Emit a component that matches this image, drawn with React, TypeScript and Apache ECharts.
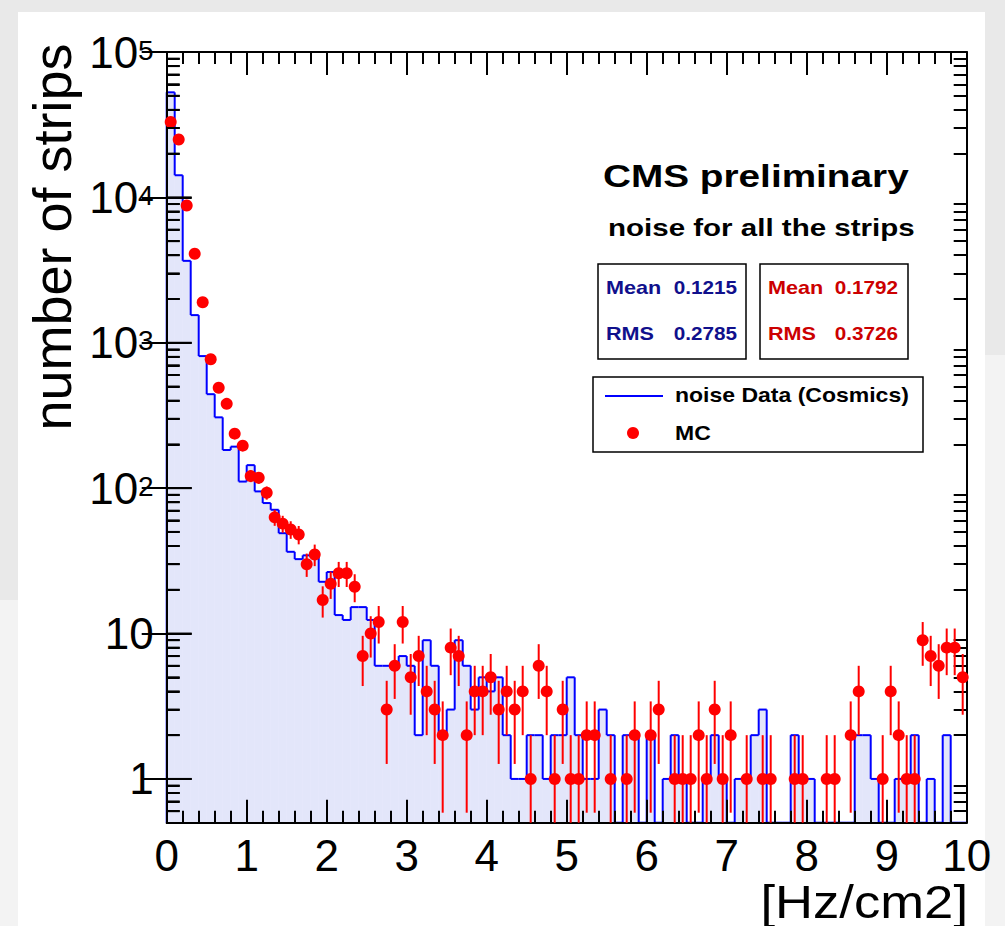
import React, { useEffect, useRef } from "react";
import * as echarts from "echarts";

// ---- data (bin width 0.1 Hz/cm2, 100 bins from 0 to 10) ----
const X_MIN = 0;
const X_MAX = 10;
const N_BINS = 100;
const Y_MIN = 0.5;
const Y_MAX = 100000;

const dataCounts = [
  52800, 14200, 3660, 1550, 810, 443, 307, 183, 193, 111,
  144, 95, 79, 71, 49, 36.5, 32.5, 34.5, 34, 22.7,
  26.5, 13.4, 12.4, 15.2, 15.2, 12.4, 6, 6, 6, 7,
  6, 2, 9, 6, 2, 3, 9, 6, 3, 5,
  4, 5, 2, 1, 1, 2, 2, 1, 2, 2,
  5, 2, 1, 1, 3, 2, 0, 2, 2, 0,
  2, 0, 1, 2, 1, 0, 0, 1, 2, 1,
  0, 1, 1, 2, 3, 0, 0, 0, 2, 1,
  1, 0, 0, 0, 0, 0, 2, 2, 1, 0,
  0, 1, 1, 2, 0, 1, 0, 2, 0, 0,
];

const mcCounts = [
  33000, 25000, 8800, 4100, 1900, 770, 490, 380, 237, 196,
  121, 118, 93, 63, 57, 52, 48, 30, 35, 17,
  22, 26, 26, 21, 7, 10, 12, 3, 6, 12,
  5, 7, 4, 3, 2, 8, 7, 2, 4, 4,
  5, 3, 4, 3, 4, 1, 6, 4, 1, 3,
  1, 1, 2, 2, 0, 1, 0, 1, 2, 0,
  2, 3, 0, 1, 1, 1, 2, 1, 3, 1,
  2, 0, 1, 0, 1, 1, 0, 0, 1, 1,
  0, 0, 1, 1, 0, 2, 4, 0, 0, 1,
  4, 2, 1, 1, 9, 7, 6, 8, 8, 5,
];

const xTickValues = [0, 1, 2, 3, 4, 5, 6, 7, 8, 9, 10];
const yMajorTickValues = [1, 10, 100, 1000, 10000, 100000];
const yMinorTickValues = [
  0.6, 0.7, 0.8, 0.9,
  2, 3, 4, 5, 6, 7, 8, 9,
  20, 30, 40, 50, 60, 70, 80, 90,
  200, 300, 400, 500, 600, 700, 800, 900,
  2000, 3000, 4000, 5000, 6000, 7000, 8000, 9000,
  20000, 30000, 40000, 50000, 60000, 70000, 80000, 90000,
];

const dataStats = { mean: "0.1215", rms: "0.2785" };
const mcStats = { mean: "0.1792", rms: "0.3726" };

const BLUE = "#0000ff";
const RED = "#ff0000";
const FILL = "rgba(170, 178, 240, 0.33)";
const FONT = "'Liberation Sans', Arial, Helvetica, sans-serif";

const binW = (X_MAX - X_MIN) / N_BINS;

function yAxisBase(position: string, ticks: number[], len: number, withLabels: boolean) {
  return {
    type: "log",
    logBase: 10,
    position,
    offset: 0,
    min: Y_MIN,
    max: Y_MAX,
    z: 50,
    axisLine: { show: true, lineStyle: { color: "#000", width: 2 } },
    axisTick: {
      show: true,
      inside: true,
      length: len,
      customValues: ticks,
      lineStyle: { color: "#000", width: 2 },
    },
    splitLine: { show: false },
    axisLabel: withLabels
      ? {
          show: true,
          margin: 13,
          color: "#000",
          fontFamily: FONT,
          fontSize: 44,
          lineHeight: 40,
          customValues: yMajorTickValues,
          formatter: (v: number) => {
            const e = Math.round(Math.log10(v));
            if (Math.abs(v - Math.pow(10, e)) > 1e-6 * v) return "";
            if (e === 0) return "1";
            if (e === 1) return "10";
            return "{b|10}{s|" + e + "}";
          },
          rich: {
            b: { fontSize: 44, fontFamily: FONT, color: "#000", lineHeight: 44, padding: [14, 0, 0, 0], verticalAlign: "bottom" },
            s: { fontSize: 28, fontFamily: FONT, color: "#000", lineHeight: 28, padding: [6, 0, 0, 0], verticalAlign: "top" },
          },
        }
      : { show: false },
  };
}

export default function App() {
  const ref = useRef<HTMLDivElement | null>(null);

  useEffect(() => {
    if (!ref.current) return;
    const chart = echarts.init(ref.current, undefined, { renderer: "svg" });

    const histData = dataCounts.map((v, i) => [
      X_MIN + i * binW,
      X_MIN + (i + 1) * binW,
      v,
      i === 0 ? 0 : dataCounts[i - 1],
    ]);

    const mcPoints: number[][] = [];
    const mcErr: number[][] = [];
    mcCounts.forEach((v, i) => {
      if (v > 0) {
        const c = X_MIN + (i + 0.5) * binW;
        mcPoints.push([c, v]);
        mcErr.push([c, v, v - Math.sqrt(v), v + Math.sqrt(v)]);
      }
    });

    const bottomOf = (params: any) => params.coordSys.y + params.coordSys.height;

    const graphics: any[] = [
      {
        type: "text",
        x: 52,
        y: 237,
        rotation: Math.PI / 2,
        style: {
          text: "number of strips",
          font: "54px " + FONT,
          fill: "#000",
          align: "center",
          verticalAlign: "middle",
        },
      },
      {
        type: "text",
        x: 968,
        y: 902,
        scaleX: 1.12,
        style: {
          text: "[Hz/cm2]",
          font: "47px " + FONT,
          fill: "#000",
          align: "right",
          verticalAlign: "middle",
        },
      },
      {
        type: "text",
        x: 603,
        y: 176,
        scaleX: 1.25,
        style: { text: "CMS preliminary", font: "bold 31px " + FONT, fill: "#000", align: "left", verticalAlign: "middle" },
      },
      {
        type: "text",
        x: 608,
        y: 228,
        scaleX: 1.23,
        style: { text: "noise for all the strips", font: "bold 24px " + FONT, fill: "#000", align: "left", verticalAlign: "middle" },
      },
      {
        type: "rect",
        shape: { x: 598, y: 264, width: 148, height: 95 },
        style: { fill: "#fff", stroke: "#000", lineWidth: 1.5 },
      },
      {
        type: "rect",
        shape: { x: 760, y: 264, width: 148, height: 95 },
        style: { fill: "#fff", stroke: "#000", lineWidth: 1.5 },
      },
      { type: "text", x: 606, y: 288, scaleX: 1.2, style: { text: "Mean", font: "bold 18px " + FONT, fill: "#10108c", verticalAlign: "middle" } },
      { type: "text", x: 737, y: 288, scaleX: 1.15, style: { text: dataStats.mean, font: "bold 18px " + FONT, fill: "#10108c", align: "right", verticalAlign: "middle" } },
      { type: "text", x: 606, y: 334, scaleX: 1.2, style: { text: "RMS", font: "bold 18px " + FONT, fill: "#10108c", verticalAlign: "middle" } },
      { type: "text", x: 737, y: 334, scaleX: 1.15, style: { text: dataStats.rms, font: "bold 18px " + FONT, fill: "#10108c", align: "right", verticalAlign: "middle" } },
      { type: "text", x: 768, y: 288, scaleX: 1.2, style: { text: "Mean", font: "bold 18px " + FONT, fill: "#cc0000", verticalAlign: "middle" } },
      { type: "text", x: 898, y: 288, scaleX: 1.15, style: { text: mcStats.mean, font: "bold 18px " + FONT, fill: "#cc0000", align: "right", verticalAlign: "middle" } },
      { type: "text", x: 768, y: 334, scaleX: 1.2, style: { text: "RMS", font: "bold 18px " + FONT, fill: "#cc0000", verticalAlign: "middle" } },
      { type: "text", x: 898, y: 334, scaleX: 1.15, style: { text: mcStats.rms, font: "bold 18px " + FONT, fill: "#cc0000", align: "right", verticalAlign: "middle" } },
      {
        type: "rect",
        shape: { x: 593, y: 377, width: 330, height: 75 },
        style: { fill: "#fff", stroke: "#000", lineWidth: 1.5 },
      },
      { type: "line", shape: { x1: 605, y1: 396, x2: 663, y2: 396 }, style: { stroke: BLUE, lineWidth: 2 } },
      { type: "text", x: 675, y: 396, scaleX: 1.18, style: { text: "noise Data (Cosmics)", font: "bold 19.5px " + FONT, fill: "#000", verticalAlign: "middle" } },
      { type: "circle", shape: { cx: 633, cy: 433, r: 6 }, style: { fill: RED } },
      { type: "text", x: 675, y: 434, scaleX: 1.18, style: { text: "MC", font: "bold 19.5px " + FONT, fill: "#000", verticalAlign: "middle" } },
    ];

    const option: any = {
      animation: false,
      backgroundColor: "transparent",
      grid: { left: 166.7, top: 52, right: 38.3, bottom: 103.3, containLabel: false },
      xAxis: [
        {
          type: "value",
          min: X_MIN,
          max: X_MAX,
          interval: 1,
          z: 50,
          axisLine: { show: true, lineStyle: { color: "#000", width: 2 } },
          axisTick: { show: true, inside: true, length: 23, lineStyle: { color: "#000", width: 2 } },
          minorTick: { show: true, splitNumber: 5, length: 12, lineStyle: { color: "#000", width: 2 } },
          splitLine: { show: false },
          axisLabel: {
            show: true,
            margin: 17,
            fontSize: 44,
            lineHeight: 32,
            color: "#000",
            fontFamily: FONT,
            formatter: (v: number) => (xTickValues.includes(v) ? String(v) : ""),
          },
        },
        {
          type: "value",
          position: "top",
          min: X_MIN,
          max: X_MAX,
          interval: 1,
          z: 50,
          axisLine: { show: true, lineStyle: { color: "#000", width: 2 } },
          axisTick: { show: true, inside: true, length: 23, lineStyle: { color: "#000", width: 2 } },
          minorTick: { show: true, splitNumber: 5, length: 12, lineStyle: { color: "#000", width: 2 } },
          splitLine: { show: false },
          axisLabel: { show: false },
        },
      ],
      yAxis: [
        yAxisBase("left", yMajorTickValues, 25, true),
        yAxisBase("right", yMajorTickValues, 25, false),
        yAxisBase("left", yMinorTickValues, 13, false),
        yAxisBase("right", yMinorTickValues, 13, false),
      ],
      series: [
        {
          type: "custom",
          name: "fill",
          xAxisIndex: 0,
          yAxisIndex: 0,
          z: 1,
          silent: true,
          encode: { x: [0, 1], y: 2 },
          data: histData,
          renderItem: (params: any, api: any) => {
            const bottom = bottomOf(params);
            const v = api.value(2);
            const y = v > 0 ? Math.min(api.coord([X_MIN, v])[1], bottom) : bottom;
            const x0 = api.coord([api.value(0), 1])[0];
            const x1 = api.coord([api.value(1), 1])[0];
            return {
              type: "rect",
              shape: { x: x0, y, width: x1 - x0, height: bottom - y },
              style: { fill: FILL },
            };
          },
        },
        {
          type: "custom",
          name: "noise Data (Cosmics)",
          xAxisIndex: 0,
          yAxisIndex: 0,
          z: 3,
          silent: true,
          encode: { x: [0, 1], y: 2 },
          data: histData,
          renderItem: (params: any, api: any) => {
            const bottom = bottomOf(params);
            const yOf = (v: number) => (v > 0 ? Math.min(api.coord([X_MIN, v])[1], bottom) : bottom);
            const x0 = api.coord([api.value(0), 1])[0];
            const x1 = api.coord([api.value(1), 1])[0];
            const y = yOf(api.value(2));
            const yp = yOf(api.value(3));
            return {
              type: "group",
              children: [
                { type: "line", shape: { x1: x0, y1: y, x2: x1, y2: y }, style: { stroke: BLUE, lineWidth: 2 } },
                { type: "line", shape: { x1: x0, y1: yp, x2: x0, y2: y }, style: { stroke: BLUE, lineWidth: 2 } },
              ],
            };
          },
        },
        {
          type: "custom",
          name: "MC errors",
          xAxisIndex: 0,
          yAxisIndex: 0,
          z: 60,
          silent: true,
          encode: { x: 0, y: 1 },
          data: mcErr,
          renderItem: (params: any, api: any) => {
            const bottom = bottomOf(params);
            const c = api.coord([api.value(0), api.value(1)]);
            const lo = api.value(2);
            const hi = api.value(3);
            const yLo = lo > 0 ? Math.min(api.coord([X_MIN, lo])[1], bottom) : bottom;
            const yHi = api.coord([X_MIN, hi])[1];
            const xl = api.coord([api.value(0) - binW / 2, 1])[0];
            const xr = api.coord([api.value(0) + binW / 2, 1])[0];
            return {
              type: "group",
              children: [
                { type: "line", shape: { x1: c[0], y1: yLo, x2: c[0], y2: yHi }, style: { stroke: RED, lineWidth: 2 } },
                { type: "line", shape: { x1: xl, y1: c[1], x2: xr, y2: c[1] }, style: { stroke: RED, lineWidth: 2 } },
              ],
            };
          },
        },
        {
          type: "scatter",
          name: "MC",
          xAxisIndex: 0,
          yAxisIndex: 0,
          z: 61,
          symbol: "circle",
          symbolSize: 12,
          itemStyle: { color: RED, opacity: 1 },
          data: mcPoints,
        },
      ],
      graphic: graphics,
    };

    chart.setOption(option);

    // left frame ticks, placed through the chart's own y scale
    const tickEls: any[] = [];
    const addTick = (v: number, len: number) => {
      const p = chart.convertToPixel({ xAxisIndex: 0, yAxisIndex: 0 }, [X_MIN, v]) as number[];
      if (!p || !isFinite(p[0]) || !isFinite(p[1])) return;
      tickEls.push({
        type: "line",
        z: 100,
        silent: true,
        shape: { x1: p[0], y1: p[1], x2: p[0] + len, y2: p[1] },
        style: { stroke: "#000", lineWidth: 2 },
      });
    };
    yMajorTickValues.forEach((v) => addTick(v, 25));
    yMinorTickValues.forEach((v) => addTick(v, 13));
    chart.setOption({ graphic: graphics.concat(tickEls) });

    return () => chart.dispose();
  }, []);

  return (
    <div style={{ position: "fixed", left: 0, top: 0, width: 1005, height: 926, background: "#fff" }}>
      <div style={{ position: "absolute", left: 0, top: 0, width: 18, height: 600, background: "#e9e9e9" }} />
      <div style={{ position: "absolute", left: 0, top: 600, width: 18, height: 326, background: "#f3f3f3" }} />
      <div style={{ position: "absolute", left: 0, top: 0, width: 1005, height: 12, background: "#e9e9e9" }} />
      <div style={{ position: "absolute", left: 985, top: 0, width: 20, height: 355, background: "#e9e9e9" }} />
      <div style={{ position: "absolute", left: 985, top: 355, width: 20, height: 571, background: "#f3f3f3" }} />
      <div ref={ref} style={{ position: "absolute", left: 0, top: 0, width: 1005, height: 926 }} />
    </div>
  );
}
